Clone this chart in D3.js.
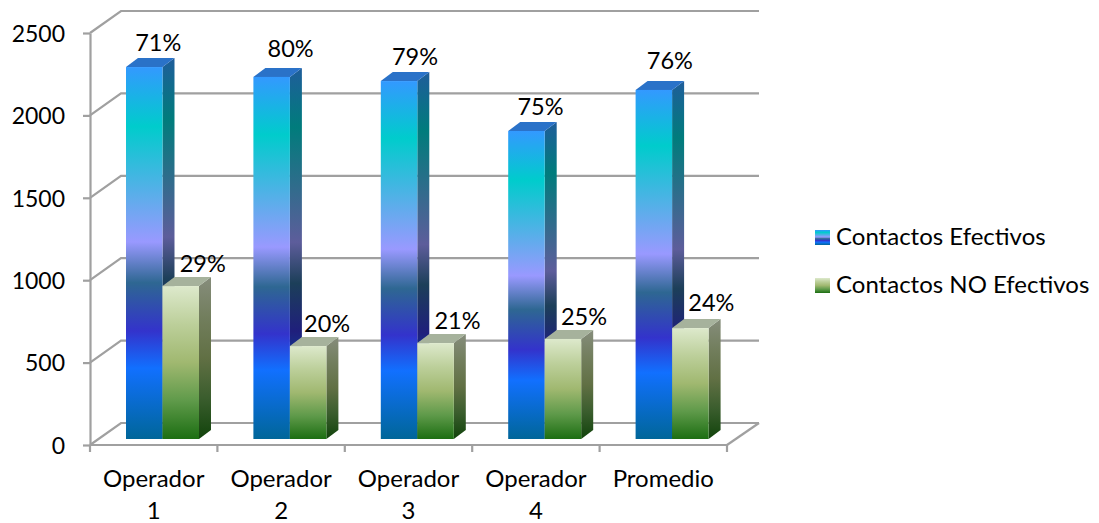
<!DOCTYPE html>
<html><head><meta charset="utf-8">
<script src="https://cdn.jsdelivr.net/npm/d3@7"></script>
<style>html,body{margin:0;padding:0;background:#fff}svg{display:block}text{font-family:Lato,"Open Sans",sans-serif;fill:#000}</style>
</head><body><svg id="c" width="1099" height="523"></svg>
<script>
const categories = [["Operador","1"],["Operador","2"],["Operador","3"],["Operador","4"],["Promedio"]];
const efectivos = [2257,2197,2172,1869,2118];
const noEfectivos = [928,564,582,607,673];
const pctEfectivos = ["71%","80%","79%","75%","76%"];
const pctNoEfectivos = ["29%","20%","21%","25%","24%"];
const seriesNames = ["Contactos Efectivos","Contactos NO Efectivos"];
const yTicks = [0,500,1000,1500,2000,2500];

const blueStops = [[0,"#3399ff"],[.16,"#00cccc"],[.47,"#9999ff"],[.58,"#2e6792"],[.71,"#3333cc"],[.81,"#1170ff"],[1,"#006699"]];
const greenStops = [[0,"#dde9cc"],[.25,"#bccf9a"],[.5,"#a0b870"],[.75,"#5f9a4a"],[1,"#1c6e12"]];

const svg = d3.select("#c");
const defs = svg.append("defs");
function grad(id, stops, k){
  const g = defs.append("linearGradient").attr("id",id).attr("x1",0).attr("x2",0).attr("y1",0).attr("y2",1);
  stops.forEach(([o,c])=>g.append("stop").attr("offset",o).attr("stop-color",k?d3.rgb(c).darker(k).formatHex():c));
}
grad("blue",blueStops,0); grad("blueSide",blueStops,1.4);
grad("green",greenStops,0); grad("greenSide",greenStops,1.4);

const plotL=90,plotR=727,plotB=445,plotT=33,wallX=31,wallY=22;
const x = d3.scaleBand().domain(categories.map((d,i)=>i)).range([plotL,plotR]);
const y = d3.scaleLinear().domain([0,2500]).range([plotB,plotT]);
const gridCol="#a0a0a0";

// walls and grid
const grid = svg.append("g").attr("stroke",gridCol).attr("stroke-width",2.2).attr("fill","none");
yTicks.forEach(t=>{
  grid.append("path").attr("d",`M${plotL},${y(t)}L${plotL+wallX},${y(t)-wallY}L${plotR+wallX+1},${y(t)-wallY}`);
});
grid.append("path").attr("d",`M${plotR},${plotB}L${plotR+wallX+1},${plotB-wallY}`);
grid.append("line").attr("x1",plotL).attr("x2",plotR).attr("y1",plotB).attr("y2",plotB);

// y axis
const ya = svg.append("g").attr("transform",`translate(${plotL},0)`)
  .call(d3.axisLeft(y).tickValues(yTicks).tickSize(7).tickSizeOuter(0).tickPadding(18).tickFormat(d3.format("d")));
ya.selectAll("path,line").attr("stroke",gridCol).attr("stroke-width",2.2);
ya.selectAll("text").attr("font-size",23).attr("dy",".36em").style("font-family","Lato,sans-serif");

// x ticks at band edges
const edges = x.domain().map(i=>x(i)).concat([plotR]);
grid.selectAll("line.t").data(edges).enter().append("line").attr("class","t")
  .attr("x1",d=>d).attr("x2",d=>d).attr("y1",plotB).attr("y2",plotB+7);

// x labels
const xl = svg.append("g").attr("font-size",24).attr("text-anchor","middle");
categories.forEach((lines,i)=>{
  const t = xl.append("text").attr("x",x(i)+x.bandwidth()/2).attr("y",487);
  lines.forEach((s,j)=>t.append("tspan").attr("x",x(i)+x.bandwidth()/2).attr("dy",j?32:0).text(s));
});

// bars
const barInset=36, barW=36.5, dx=12, dy=9, baseLift=6;
// hand-placed data-label nudges, as in the original
const nudgeX=[[-4,1,-2,-4,-2],[2,-1,2,1,1]], nudgeY=[[0,-4,0,0,-5],[0,0,0,0,-3]];
const series = [
 {vals:efectivos,pct:pctEfectivos,fill:"url(#blue)",side:"url(#blueSide)",topFill:"#2a72c8",off:0},
 {vals:noEfectivos,pct:pctNoEfectivos,fill:"url(#green)",side:"url(#greenSide)",topFill:"#a6b29c",off:1}
];
const bars = svg.append("g"), labels = svg.append("g").attr("font-size",23.5).attr("text-anchor","middle");
categories.forEach((c,i)=>{
  series.forEach(s=>{
    const x0=x(i)+barInset+s.off*barW, x1=x0+barW, yb=y(0)-baseLift, yt=y(s.vals[i])-baseLift;
    bars.append("path").attr("d",`M${x1},${yt}L${x1+dx},${yt-dy}L${x1+dx},${yb-dy}L${x1},${yb}Z`).attr("fill",s.side);
    bars.append("path").attr("d",`M${x0},${yt}L${x0+dx},${yt-dy}L${x1+dx},${yt-dy}L${x1},${yt}Z`).attr("fill",s.topFill);
    bars.append("rect").attr("x",x0).attr("y",yt).attr("width",barW).attr("height",yb-yt).attr("fill",s.fill);
    labels.append("text").attr("x",x0+barW/2+(s.off?20:18)+nudgeX[s.off][i]).attr("y",yt-(s.off?14:16)+nudgeY[s.off][i]).text(s.pct[i]);
  });
});

// legend
const lg = svg.append("g");
seriesNames.forEach((n,i)=>{
  const yy=230+48*i;
  lg.append("rect").attr("x",815).attr("y",yy).attr("width",15).attr("height",15).attr("fill",i?"url(#green)":"url(#blue)");
  lg.append("text").attr("x",836).attr("y",yy+15).attr("font-size",24).text(n);
});
</script></body></html>
